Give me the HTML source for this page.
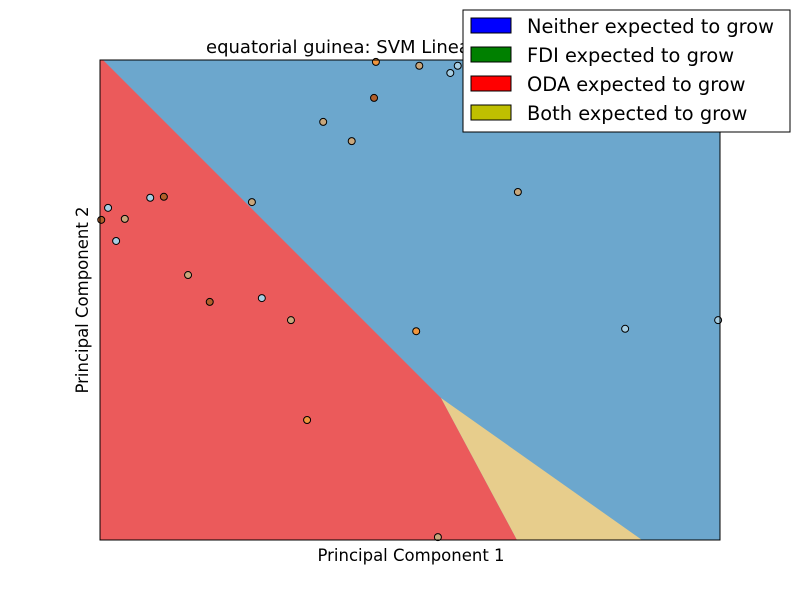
<!DOCTYPE html>
<html><head><meta charset="utf-8"><style>
body{margin:0;background:#fff;}
svg{display:block;font-family:"DejaVu Sans","Liberation Sans",sans-serif;}
</style></head><body>
<svg id="chart" width="800" height="600">
  <polygon points="100,60 720,60 720,540 100,540" fill="#6ca7cd"/>
  <polygon points="100,60 103,60 441,398 517,540 100,540" fill="#eb5a5b"/>
  <polygon points="441,398 517,540 642,540" fill="#e7cd8c"/>
  <g id="pts"></g>
  <rect x="100" y="60" width="620" height="480" fill="none" stroke="#000" stroke-width="1"/>
  <text x="206" y="53" font-size="18">equatorial guinea: SVM Linear Kernel</text>
  <text x="411" y="561" font-size="16.5" text-anchor="middle">Principal Component 1</text>
  <text x="88" y="300" font-size="16.5" text-anchor="middle" transform="rotate(-90 88 300)">Principal Component 2</text>
  <g>
    <rect x="463" y="10" width="327" height="122" fill="#fff" stroke="#000"/>
    <g><rect x="471" y="18" width="40" height="15" fill="#0000ff" stroke="#000"/><text x="527" y="33" font-size="19.4">Neither expected to grow</text></g>
    <g><rect x="471" y="47" width="40" height="15" fill="#008000" stroke="#000"/><text x="527" y="62" font-size="19.4">FDI expected to grow</text></g>
    <g><rect x="471" y="76" width="40" height="15" fill="#ff0000" stroke="#000"/><text x="527" y="91" font-size="19.4">ODA expected to grow</text></g>
    <g><rect x="471" y="105" width="40" height="15" fill="#bfbf00" stroke="#000"/><text x="527" y="120" font-size="19.4">Both expected to grow</text></g>
  </g>
</svg>
<script>
const pcX = [4.45,5.15,5.65,5.77,4.42,3.6,4.06,0.81,1.03,0.13,0.02,0.4,0.26,2.45,1.42,1.77,2.61,3.08,5.1,6.74,8.47,9.97,3.34,5.45];
const pcY = [9.96,9.88,9.73,9.88,9.21,8.71,8.31,7.13,7.15,6.92,6.67,6.69,6.23,7.04,5.52,4.96,5.04,4.58,4.35,7.25,4.4,4.58,2.5,0.06];
const pcCls = [3,1,0,0,2,1,1,0,2,0,2,1,0,1,1,2,0,1,3,1,0,0,3,1];
const clsColors = ['#a6cee3','#c8a77c','#b15f2b','#f0963e'];
const xMin=0,xMax=10,yMin=0,yMax=10;
const sx=v=>100+(v-xMin)/(xMax-xMin)*620;
const sy=v=>540-(v-yMin)/(yMax-yMin)*480;
const g=document.getElementById('pts');
for(let i=0;i<pcX.length;i++){
  const c=document.createElementNS('http://www.w3.org/2000/svg','circle');
  c.setAttribute('cx',sx(pcX[i]));c.setAttribute('cy',sy(pcY[i]));c.setAttribute('r',3.5);
  c.setAttribute('fill',clsColors[pcCls[i]]);c.setAttribute('stroke','#000');c.setAttribute('stroke-width',1);
  
  
  g.appendChild(c);
}
</script>
</body></html>
